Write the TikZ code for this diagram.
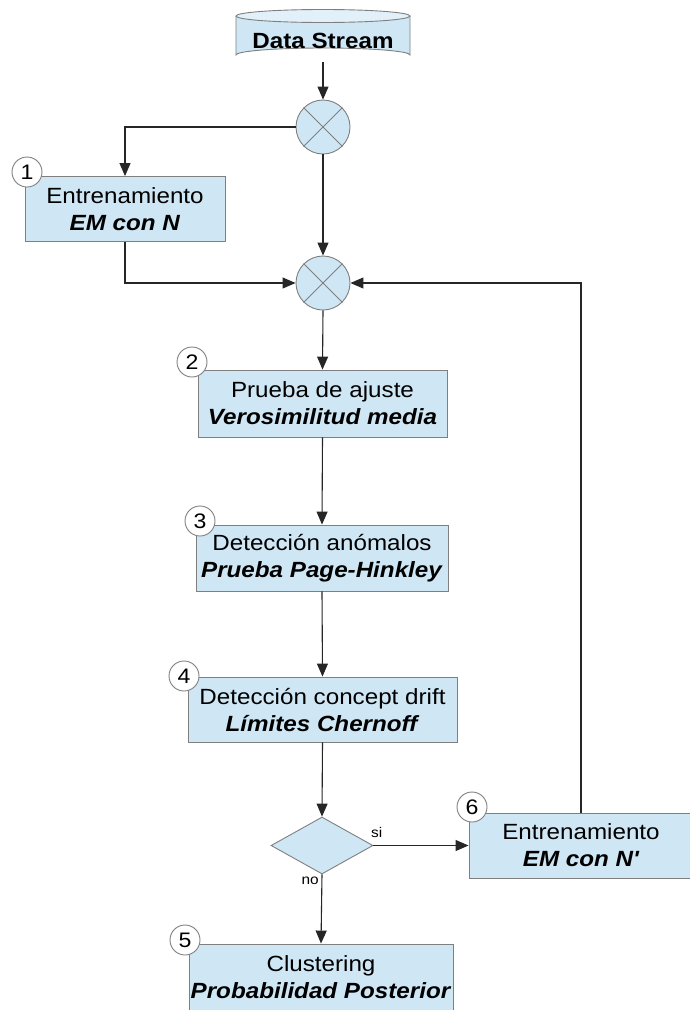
\documentclass[tikz,border=0pt]{standalone}
\usepackage{fontspec}
\setmainfont[FakeStretch=1.1]{Liberation Sans}
\usetikzlibrary{arrows.meta,shapes.geometric}
\definecolor{boxfill}{HTML}{CFE7F5}
\definecolor{boxline}{HTML}{7F7F7F}
\tikzset{
  procbox/.style={draw=boxline, fill=boxfill, line width=0.9pt, align=center, inner sep=0pt,
    font=\fontsize{22}{27}\selectfont},
  badge/.style={circle, draw=boxline, fill=white, line width=0.9pt, minimum size=30pt, inner sep=0pt,
    font=\fontsize{21}{21}\selectfont},
  sumnode/.style={circle, draw=boxline, fill=boxfill, line width=0.9pt, minimum size=54pt, inner sep=0pt},
  conn/.style={line width=1.1pt, draw=black!85, -{Triangle[length=13pt,width=11pt]}},
  lbl/.style={font=\fontsize{14}{14}\selectfont, inner sep=1pt}
}
\begin{document}
\begin{tikzpicture}[x=1pt,y=-1pt]
\useasboundingbox (0,0) rectangle (689,1010);
% Data Stream cylinder
\fill[boxfill] (236,16) -- (236,55) arc[start angle=180,end angle=360,x radius=87,y radius=7] -- (410,16) -- cycle;
\draw[boxline,line width=0.9pt] (236,16) -- (236,55) arc[start angle=180,end angle=360,x radius=87,y radius=7] -- (410,16);
\draw[boxline,line width=0.9pt,fill=boxfill!60!white] (323,16) ellipse[x radius=87,y radius=6.5];
\node[font=\fontsize{22}{22}\selectfont\bfseries] (ds) at (323,41) {Data Stream};
\coordinate (dsb) at (323,62);
% summing nodes
\node[sumnode] (s1) at (323,127) {};
\draw[boxline,line width=0.9pt] (s1.45) -- (s1.225) (s1.135) -- (s1.315);
\node[sumnode] (s2) at (323,283) {};
\draw[boxline,line width=0.9pt] (s2.45) -- (s2.225) (s2.135) -- (s2.315);
% boxes
\node[procbox, minimum width=200pt, minimum height=65pt] (b1) at (125,209) {Entrenamiento\\\textbf{\textit{EM con N}}};
\node[procbox, minimum width=249pt, minimum height=67pt] (b2) at (322.5,403.5) {Prueba de ajuste\\\textbf{\textit{Verosimilitud media}}};
\node[procbox, minimum width=252pt, minimum height=66pt] (b3) at (322,558) {Detección anómalos\\\textbf{\textit{Prueba Page-Hinkley}}};
\node[procbox, minimum width=269pt, minimum height=65pt] (b4) at (322.5,709.5) {Detección concept drift\\\textbf{\textit{Límites Chernoff}}};
\node[diamond, draw=boxline, fill=boxfill, line width=0.9pt, minimum width=102pt, minimum height=57pt, inner sep=0pt, aspect=1.79] (d) at (322,845.5) {};
\node[procbox, minimum width=224pt, minimum height=65pt] (b6) at (581,845.5) {Entrenamiento\\\textbf{\textit{EM con N\textquotesingle}}};
\node[procbox, minimum width=264pt, minimum height=66pt] (b5) at (321,977) {Clustering\\\textbf{\textit{Probabilidad Posterior}}};
% badges
\node[badge] (n1) at (27,172) {1};
\node[badge] (n2) at (192,362) {2};
\node[badge] (n3) at (200,521) {3};
\node[badge] (n4) at (184,676) {4};
\node[badge] (n6) at (472,807) {6};
\node[badge] (n5) at (185,940) {5};
% connectors
\draw[conn] (dsb) -- (s1.north);
\draw[conn] (s1.west) -| (b1.north);
\draw[conn] (s1.south) -- (s2.north);
\draw[conn] (b1.south) |- (s2.west);
\draw[conn] (b6.north) |- (s2.east);
\draw[conn] (s2.south) -- (b2.north);
\draw[conn] (b2.south) -- (b3.north);
\draw[conn] (b3.south) -- (b4.north);
\draw[conn] (b4.south) -- (d.north);
\draw[conn] (d.east) -- (b6.west);
\draw[conn] (d.south) -- (b5.north);
% labels
\node[lbl, anchor=south west] (si) at (370,839) {si};
\node[lbl, anchor=north east] (no) at (320,876) {no};
\end{tikzpicture}
\end{document}
